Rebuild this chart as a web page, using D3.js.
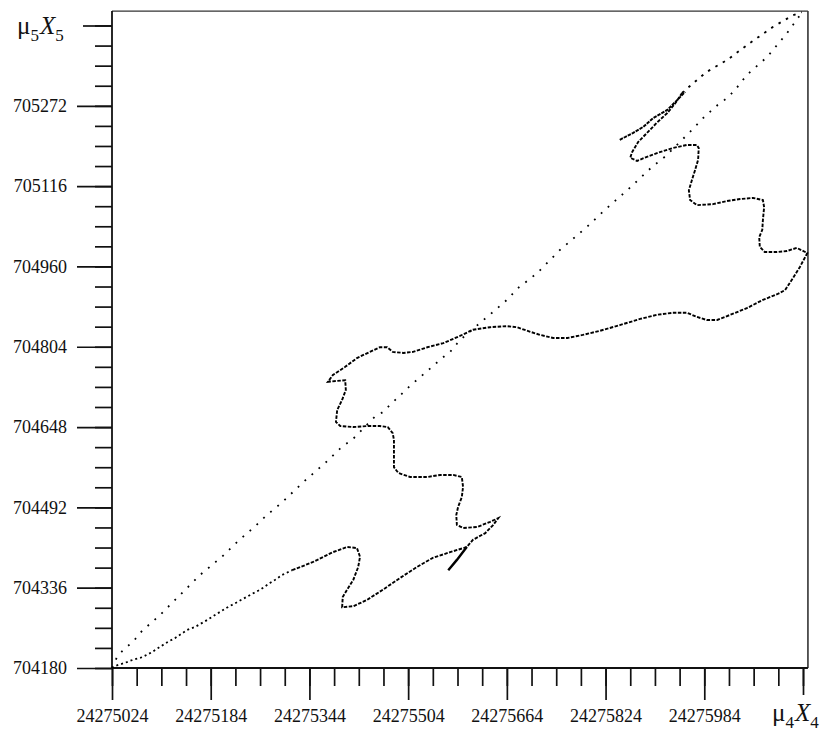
<!DOCTYPE html>
<html>
<head>
<meta charset="utf-8">
<script src="https://cdn.jsdelivr.net/npm/d3@7"></script>
<style>
  body { margin: 0; background: #fff; }
  svg { display: block; }
  .axis text { font-family: "Liberation Serif", "DejaVu Serif", serif; font-size: 18px; fill: #111; }
  .axis line { stroke: #111; stroke-width: 1.7; }
  .axis path { display: none; }
</style>
</head>
<body>
<svg id="paper"></svg>
<script>
// tick values
let xMajor = [24275024, 24275184, 24275344, 24275504, 24275664, 24275824, 24275984];
let xEnd = 24276144;          // last tick, labelled mu4 X4
let yMajor = [704180, 704336, 704492, 704648, 704804, 704960, 705116, 705272];
let yEnd = 705428;            // last tick, labelled mu5 X5

// curve pieces, [mu4X4, mu5X5]
let waveStart = [
    [24275024, 704180], [24275029, 704184], [24275045, 704190], [24275058, 704196],
    [24275073, 704201], [24275089, 704211], [24275099, 704219], [24275115, 704231],
    [24275126, 704238], [24275146, 704254], [24275159, 704260], [24275178, 704273],
    [24275191, 704283], [24275210, 704297], [24275227, 704308], [24275248, 704322],
    [24275264, 704332], [24275280, 704345], [24275288, 704351], [24275300, 704361],
    [24275316, 704370]
];

let waveMain = [
    [24275316, 704370], [24275329, 704376], [24275350, 704386], [24275382, 704405],
    [24275405, 704415], [24275421, 704413], [24275426, 704396], [24275423, 704376],
    [24275415, 704351], [24275405, 704332], [24275398, 704318], [24275397, 704298],
    [24275415, 704300], [24275437, 704312], [24275463, 704332], [24275491, 704355],
    [24275518, 704376], [24275544, 704394], [24275572, 704405], [24275599, 704415],
    [24275609, 704429], [24275629, 704442], [24275642, 704458], [24275650, 704471],
    [24275637, 704464], [24275616, 704454], [24275593, 704452], [24275583, 704458],
    [24275582, 704477], [24275585, 704493], [24275591, 704512], [24275593, 704532],
    [24275591, 704551], [24275577, 704555], [24275556, 704555], [24275535, 704551],
    [24275507, 704551], [24275488, 704559], [24275481, 704570], [24275481, 704598],
    [24275481, 704623], [24275479, 704636], [24275471, 704648], [24275458, 704650],
    [24275437, 704650], [24275415, 704648], [24275394, 704650], [24275387, 704658],
    [24275389, 704681], [24275397, 704701], [24275403, 704720], [24275402, 704739],
    [24275374, 704736], [24275382, 704749], [24275402, 704765], [24275421, 704782],
    [24275442, 704794], [24275458, 704803], [24275470, 704803], [24275479, 704794],
    [24275496, 704792], [24275512, 704794], [24275535, 704803], [24275561, 704811],
    [24275588, 704825], [24275609, 704837], [24275637, 704842], [24275664, 704844],
    [24275680, 704842], [24275702, 704833], [24275718, 704827], [24275739, 704821],
    [24275762, 704821], [24275787, 704827], [24275815, 704835], [24275847, 704846],
    [24275880, 704858], [24275907, 704866], [24275933, 704870], [24275956, 704870],
    [24275972, 704862], [24275988, 704856], [24276005, 704856], [24276026, 704866],
    [24276053, 704879], [24276079, 704895], [24276102, 704906], [24276115, 704914],
    [24276128, 704938], [24276139, 704959], [24276151, 704986], [24276134, 704996],
    [24276118, 704990], [24276102, 704988], [24276082, 704988], [24276074, 704998],
    [24276073, 705017], [24276078, 705031], [24276079, 705050], [24276081, 705075],
    [24276079, 705089], [24276063, 705093], [24276042, 705091], [24276021, 705087],
    [24275998, 705081], [24275972, 705079], [24275961, 705089], [24275959, 705108],
    [24275964, 705128], [24275969, 705147], [24275974, 705167], [24275975, 705190],
    [24275972, 705196], [24275956, 705196], [24275933, 705190], [24275912, 705182],
    [24275891, 705173], [24275875, 705165], [24275864, 705171], [24275867, 705182],
    [24275877, 705202], [24275891, 705219], [24275907, 705239], [24275924, 705258],
    [24275937, 705277], [24275948, 705297]
];

let waveEnd = [
    [24275948, 705297], [24275966, 705316], [24275988, 705338], [24276021, 705361],
    [24276058, 705394], [24276095, 705425], [24276128, 705448], [24276142, 705454]
];

let spike = [[24275599, 704415], [24275583, 704390], [24275569, 704370]];

let sideArm = [
    [24275847, 705206], [24275868, 705219], [24275885, 705231], [24275901, 705248],
    [24275924, 705264], [24275940, 705283], [24275953, 705299]
];

let diagonal = [
    [24275024, 704180], [24275032, 704201], [24275042, 704215], [24275058, 704231],
    [24275074, 704254], [24275089, 704269], [24275107, 704289], [24275121, 704306],
    [24275167, 704361], [24275186, 704380], [24275202, 704396], [24275227, 704425],
    [24275243, 704442], [24275253, 704452], [24275275, 704477], [24275300, 704502],
    [24275334, 704541], [24275353, 704561], [24275373, 704582], [24275398, 704611],
    [24275413, 704623], [24275450, 704668], [24275463, 704677], [24275478, 704695],
    [24275488, 704706], [24275507, 704728], [24275539, 704761], [24275559, 704782],
    [24275572, 704794], [24275588, 704817], [24275632, 704862], [24275642, 704872],
    [24275664, 704895], [24275682, 704918], [24275693, 704928], [24275713, 704947],
    [24275750, 704992], [24275794, 705037], [24275823, 705070], [24275859, 705108],
    [24275877, 705128], [24275899, 705153], [24275920, 705173], [24275948, 705206],
    [24275964, 705225], [24275982, 705248], [24276006, 705274], [24276021, 705287],
    [24276034, 705303], [24276053, 705332], [24276086, 705367], [24276118, 705413],
    [24276139, 705448], [24276147, 705456]
];

let width = 833, height = 737;
let svg = d3.select("#paper").attr("width", width).attr("height", height);

let x = d3.scaleLinear().domain([24275024, 24276144]).range([112, 803]);
let y = d3.scaleLinear().domain([704180, 705428]).range([668, 25.5]);
let xMax = 24276152, yMax = 705456;   // frame edges

// frame
svg.append("line")
    .attr("x1", x(24275024)).attr("x2", x(xMax))
    .attr("y1", y(yMax)).attr("y2", y(yMax))
    .attr("stroke", "#333").attr("stroke-width", 1.4);
svg.append("line")
    .attr("x1", x(xMax)).attr("x2", x(xMax))
    .attr("y1", y(yMax)).attr("y2", y(704180))
    .attr("stroke", "#333").attr("stroke-width", 1.6);

// x axis: minor, major, end tick
let xMinor = d3.range(24275024, xEnd + 1, 40);
svg.append("g").attr("class", "axis")
    .attr("transform", "translate(0," + y(704180) + ")")
    .call(d3.axisBottom(x).tickValues(xMinor).tickSize(18).tickFormat(""));
svg.append("g").attr("class", "axis")
    .attr("transform", "translate(0," + y(704180) + ")")
    .call(d3.axisBottom(x).tickValues(xMajor).tickSize(32).tickPadding(9).tickFormat(d3.format("d")));
svg.append("g").attr("class", "axis")
    .attr("transform", "translate(0," + y(704180) + ")")
    .call(d3.axisBottom(x).tickValues([xEnd]).tickSize(27).tickFormat(""));

// y axis
let yMinor = d3.range(704180, yEnd + 1, 39);
svg.append("g").attr("class", "axis")
    .attr("transform", "translate(" + x(24275024) + ",0)")
    .call(d3.axisLeft(y).tickValues(yMinor).tickSize(17).tickFormat(""));
svg.append("g").attr("class", "axis")
    .attr("transform", "translate(" + x(24275024) + ",0)")
    .call(d3.axisLeft(y).tickValues(yMajor).tickSize(35).tickPadding(10).tickFormat(d3.format("d")));
svg.append("g").attr("class", "axis")
    .attr("transform", "translate(" + x(24275024) + ",0)")
    .call(d3.axisLeft(y).tickValues([yEnd]).tickSize(29).tickFormat(""));

// axis lines
svg.append("line")
    .attr("x1", x(24275024)).attr("x2", x(xMax))
    .attr("y1", y(704180)).attr("y2", y(704180))
    .attr("stroke", "#111").attr("stroke-width", 1.8);
svg.append("line")
    .attr("x1", x(24275024)).attr("x2", x(24275024))
    .attr("y1", y(yMax)).attr("y2", y(704180))
    .attr("stroke", "#111").attr("stroke-width", 1.8);

// axis names
function axisName(px, py, sub) {
    let t = svg.append("text")
        .attr("x", px).attr("y", py)
        .style("font-family", "'Liberation Serif', serif")
        .style("font-size", "25px")
        .attr("fill", "#111");
    t.append("tspan").text("\u03bc");
    t.append("tspan").attr("dy", 7).style("font-size", "17px").text(sub);
    t.append("tspan").attr("dy", -7).attr("dx", 1).style("font-style", "italic").text("X");
    t.append("tspan").attr("dy", 7).style("font-size", "17px").text(sub);
}
axisName(17, y(yEnd) + 8, "5");
axisName(772, 721, "4");

// curve
let line = d3.line().x(d => x(d[0])).y(d => y(d[1]));
let pieces = [
    {data: diagonal, dash: "1.8,7.5", w: 1.8},
    {data: waveStart, dash: "2,3", w: 1.8},
    {data: waveMain, dash: "3.5,1.5", w: 1.9},
    {data: waveEnd, dash: "2.5,6", w: 1.9},
    {data: spike, dash: null, w: 2.4},
    {data: sideArm, dash: "3.5,1", w: 1.9}
];
svg.selectAll(".piece")
    .data(pieces)
    .enter()
    .append("path")
    .classed("piece", true)
    .attr("d", d => line(d.data))
    .attr("fill", "none")
    .attr("stroke", "#000")
    .attr("stroke-width", d => d.w)
    .attr("stroke-dasharray", d => d.dash);
</script>
</body>
</html>
